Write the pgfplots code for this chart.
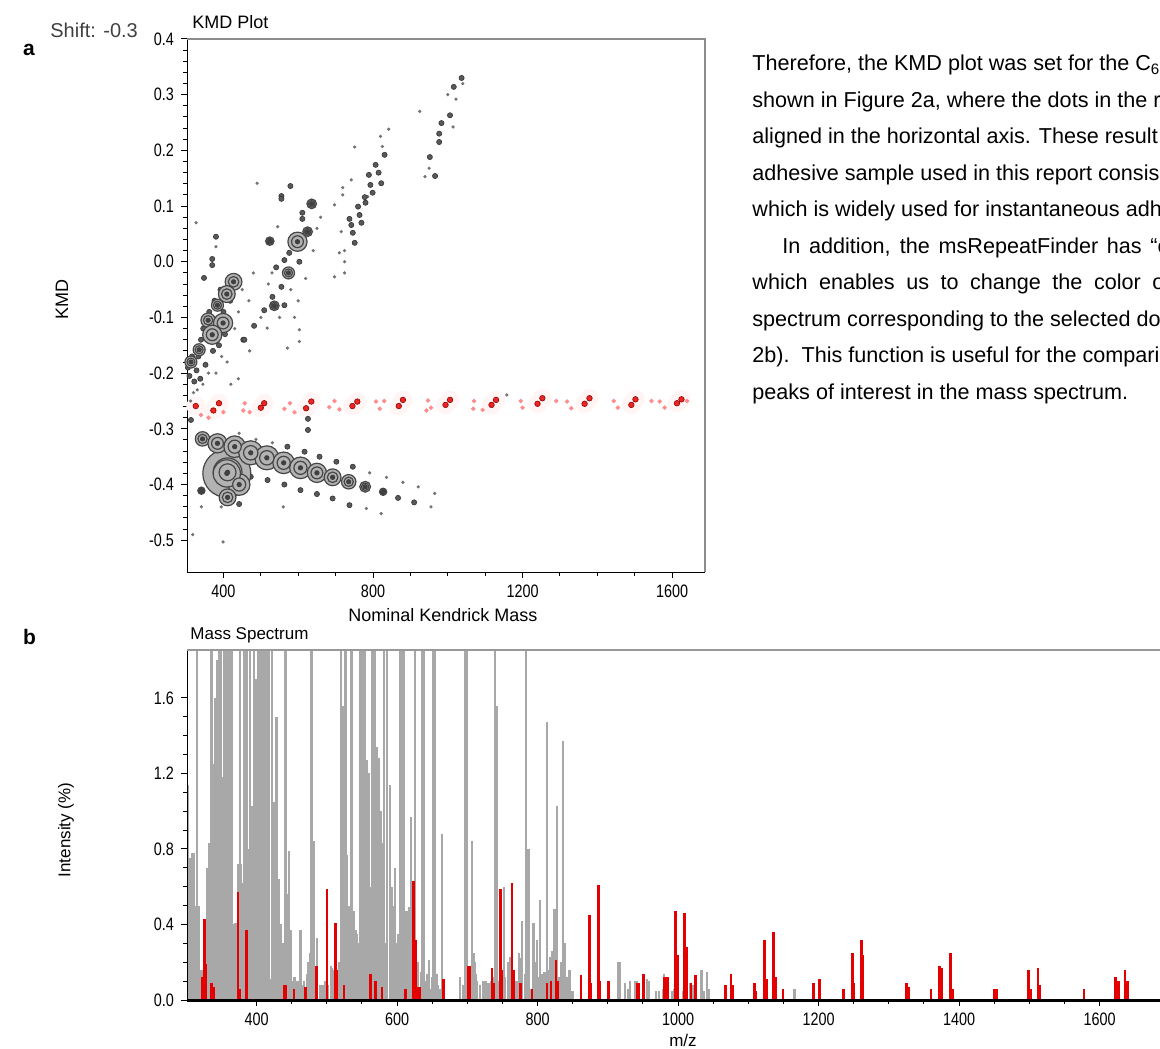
\documentclass[border=0pt]{standalone}
\usepackage{pgfplots}
\pgfplotsset{compat=1.18}
\usepackage{pgfplotstable}
\usepackage{fontspec}
\setmainfont{Liberation Sans}
\newfontfamily\uifont[FakeStretch=0.8]{Liberation Sans}
\definecolor{specgray}{RGB}{168,168,168}
\definecolor{specred}{RGB}{228,0,0}
\definecolor{bubfill}{RGB}{178,178,178}
\definecolor{bubline}{RGB}{70,70,70}

% KMD plot: bubbles (x, KMD, radius in px)
\pgfplotstableread{
x y r
409 -0.380 20
411 -0.378 12
442 -0.400 9
411 -0.423 7
344 -0.318 6
384 -0.326 8
430 -0.332 9
473 -0.343 10
516 -0.352 10
561 -0.361 9
606 -0.370 9
650 -0.379 8
692 -0.387 7
735 -0.395 6
779 -0.404 4.5
827 -0.413 3
341 -0.411 3
427 -0.036 7
409 -0.058 7
384 -0.078 5
359 -0.105 6
399 -0.110 8
370 -0.131 8
335 -0.158 5
313 -0.180 5
598 0.036 8
625 0.054 4
636 0.104 4
574 -0.020 5
536 -0.079 4
524 0.037 3.5
}\bubbles

\pgfplotstableread{
x y
541 -0.010
555 -0.045
563 0.003
576 0.016
603 0.000
611 0.088
611 0.077
625 0.057
531 -0.063
563 -0.078
509 -0.087
482 -0.115
453 -0.140
579 0.136
555 0.118
555 0.113
1006 0.263
983 0.249
831 0.192
807 0.174
778 0.116
815 0.160
822 0.141
793 0.138
789 0.156
799 0.124
780 0.106
764 0.084
760 0.099
769 0.070
742 0.066
737 0.077
746 0.052
751 0.034
1037 0.330
1016 0.314
977 0.230
977 0.215
952 0.188
966 0.154
348 -0.029
380 0.045
370 0.005
370 -0.006
456 -0.140
313 -0.284
563 -0.400
606 -0.410
650 -0.417
692 -0.425
518 -0.392
473 -0.386
442 -0.435
657 -0.350
702 -0.359
746 -0.368
571 -0.332
617 -0.341
737 -0.437
867 -0.424
910 -0.432
305 -0.190
309 -0.205
316 -0.170
322 -0.215
328 -0.195
333 -0.170
340 -0.140
346 -0.120
352 -0.100
362 -0.090
376 -0.070
392 -0.050
400 -0.090
418 -0.070
404 -0.130
388 -0.150
372 -0.160
352 -0.185
338 -0.210
626 -0.282
626 -0.302
}\darkdots

\pgfplotstableread{
x y
327 0.070
380 0.027
517 -0.119
603 -0.122
603 -0.143
571 -0.155
490 0.141
925 0.270
820 0.225
825 0.207
751 0.206
742 0.147
719 0.133
719 0.120
715 0.054
724 0.020
724 0.000
724 -0.020
697 -0.027
710 0.016
697 0.102
786 0.117
939 0.153
950 0.168
1014 0.242
1022 0.292
842 0.238
782 -0.443
822 -0.452
791 -0.379
836 -0.387
880 -0.396
921 -0.404
965 -0.416
955 -0.440
531 -0.325
487 -0.319
442 -0.308
341 -0.440
394 -0.440
318 -0.490
399 -0.503
560 -0.440
320 -0.235
312 -0.250
330 -0.230
345 -0.220
360 -0.200
380 -0.200
395 -0.170
410 -0.180
440 -0.210
420 -0.220
470 -0.160
430 -0.120
440 -0.090
450 -0.050
468 -0.070
500 -0.100
480 -0.020
520 -0.040
530 -0.020
550 -0.100
580 -0.050
590 -0.100
600 -0.070
620 -0.030
640 0.020
650 0.060
660 0.080
545 0.063
1158 -0.239
1000 0.300
1040 0.320
}\tinydots

\pgfplotstableread{
x y
326 -0.259
373 -0.267
388 -0.254
500 -0.262
509 -0.254
621 -0.263
635 -0.251
745 -0.259
758 -0.251
869 -0.259
880 -0.248
994 -0.257
1006 -0.248
1117 -0.257
1129 -0.248
1240 -0.255
1253 -0.245
1366 -0.255
1379 -0.245
1491 -0.257
1502 -0.247
1613 -0.254
1625 -0.247
}\reddots

\pgfplotstableread{
x y
340 -0.275
360 -0.280
400 -0.270
453 -0.267
457 -0.254
470 -0.270
563 -0.264
578 -0.254
590 -0.270
683 -0.261
697 -0.250
710 -0.265
808 -0.251
818 -0.264
830 -0.250
943 -0.267
947 -0.249
955 -0.262
1068 -0.264
1070 -0.250
1093 -0.266
1195 -0.250
1200 -0.262
1290 -0.250
1319 -0.251
1330 -0.263
1444 -0.250
1455 -0.262
1545 -0.250
1567 -0.251
1580 -0.262
1640 -0.250
}\palereddots

% Mass spectrum
\pgfplotstableread{
x y
302 0.18
306 0.75
310 0.70
314 0.50
318 0.30
322 0.16
326 0.20
330 0.68
334 0.82
338 0.75
342 0.60
346 0.90
350 1.10
354 0.70
358 0.60
362 0.40
366 0.25
370 0.28
374 0.70
378 0.72
382 0.75
386 0.72
390 0.80
394 0.90
398 0.85
402 1.10
406 0.90
410 1.00
414 0.95
418 0.70
422 0.12
426 0.60
430 0.64
434 0.40
438 0.30
442 0.25
446 0.20
450 0.10
454 0.12
458 0.10
462 0.15
466 0.08
470 0.06
474 0.20
478 0.22
482 0.20
486 0.12
490 0.08
494 0.08
498 0.10
502 0.08
506 0.18
510 0.16
514 0.12
518 0.20
522 0.40
526 0.50
530 0.45
534 0.35
538 0.40
542 0.35
546 0.30
550 0.60
554 0.40
558 0.70
562 0.60
566 0.40
570 0.35
574 0.55
578 0.45
582 0.30
586 0.40
590 0.70
594 0.50
598 0.30
602 0.35
606 0.45
610 0.50
614 0.40
618 0.30
622 0.20
626 0.30
630 0.20
634 0.15
638 0.20
642 0.10
646 0.06
650 0.12
654 0.06
658 0.08
662 0.06
690 0.10
694 0.08
698 0.12
702 0.08
706 0.15
710 0.20
714 0.10
718 0.08
722 0.10
726 0.10
730 0.09
734 0.10
738 0.12
742 0.10
746 0.10
750 0.15
754 0.12
758 0.20
762 0.15
766 0.14
770 0.10
774 0.22
778 0.12
782 0.14
786 0.10
790 0.06
794 0.10
798 0.20
802 0.12
806 0.14
810 0.15
814 0.16
818 0.12
822 0.20
826 0.15
830 0.12
834 0.20
838 0.15
842 0.12
846 0.08
850 0.05
}\grass

\pgfplotstableread{
x y
302.4 1.14
306.2 0.19
308.5 0.78
310.9 0.78
314.7 0.70
315.6 2.0
318 0.50
321.3 0.16
328.9 0.70
332.2 0.83
334.6 2.0
337 2.0
339.3 1.25
341.7 1.60
344.1 1.80
346.4 2.0
348.8 2.0
351.2 1.18
354.5 2.0
357.3 2.0
360.7 2.0
363 2.0
365.4 2.0
367.8 0.40
370.1 0.41
373.5 0.72
376.3 2.0
379.6 0.62
382.9 2.0
386.7 2.0
390.5 2.0
393.8 1.03
396.2 2.0
400 1.70
401.9 2.0
404.7 2.0
408.1 2.0
410.4 2.0
412.8 2.0
415.2 2.0
417.5 2.0
419.9 0.11
422.3 2.0
425.6 1.05
428.4 1.50
431.8 0.64
434.1 0.40
441.2 2.0
443.6 0.56
446 0.79
448.3 0.37
453.1 0.10
462.6 0.37
467.3 0.10
472 0.14
475.8 0.25
478.2 2.0
481.5 0.84
486.3 0.33
507.6 0.17
520.4 2.0
523.2 1.56
526.5 2.0
528.9 0.77
532.2 0.50
535.1 2.0
538.4 0.47
540.8 0.37
547.9 2.0
550.7 2.0
553.6 2.0
557.3 1.27
559.7 1.20
564.5 2.0
567.8 2.0
570.6 1.34
573.9 1.28
576.3 1.00
578.7 0.83
581 2.0
585.8 2.0
589.6 1.14
592.9 0.60
597.6 0.70
603.8 2.0
607.1 2.0
610.4 2.0
613.3 0.47
616.6 0.49
619.9 0.97
622.7 0.50
626.1 2.0
635.5 2.0
638.9 2.0
642.7 0.14
645.5 0.21
651.2 2.0
654.5 2.0
656.9 0.14
664.5 0.88
690 0.12
697.2 2.0
699.5 2.0
706.6 0.84
709 0.25
712.8 0.14
739.8 2.0
742.2 1.56
746.9 0.26
751.7 0.60
761.1 0.23
773 0.25
777.7 0.42
783.9 2.0
787.2 0.80
794.3 0.41
799.1 0.32
803.8 0.53
813.3 1.47
818 0.23
820.4 0.26
824.2 0.48
827.5 1.03
836.7 1.37
839.3 0.30
845.5 0.16
914.8 0.20
917.5 0.20
925 0.09
928.6 0.06
931.8 0.10
939.3 0.10
941.2 0.10
955.6 0.11
957.8 0.10
968.4 0.05
972.4 0.05
978.6 0.06
980.1 0.14
986.2 0.08
991.3 0.05
993.9 0.06
1006.6 0.05
1016.8 0.09
1020.4 0.08
1025.5 0.05
1033.2 0.16
1036.2 0.05
1041.3 0.15
1043.9 0.06
1165.8 0.06
}\graypeaks

\pgfplotstableread{
x y
322.7 0.12
324.2 0.05
326.1 0.43
327.5 0.19
336 0.09
338.4 0.07
373.5 0.57
375.4 0.06
385.8 0.37
438.9 0.08
441 0.08
453.1 0.06
469.7 0.07
485.3 0.18
500.5 0.59
512.3 0.41
514.5 0.16
524.2 0.08
562.1 0.14
569.2 0.10
578.7 0.07
611.8 0.06
623.7 0.63
626 0.32
629.4 0.07
632 0.07
666.4 0.11
701.9 0.18
704 0.18
735.1 0.17
737.5 0.09
746.9 0.59
749.3 0.16
763.5 0.62
765.8 0.16
775.4 0.09
791.9 0.06
813.3 0.09
819.4 0.10
826.5 0.21
828.5 0.10
861.6 0.13
873.5 0.45
875.9 0.09
886.7 0.61
889 0.10
901 0.10
942 0.09
944 0.09
950.5 0.14
981 0.12
984.7 0.12
996.4 0.47
999 0.24
1009.2 0.46
1011.7 0.28
1018.4 0.09
1024.5 0.13
1067.9 0.08
1075.5 0.14
1078 0.08
1108.7 0.09
1111.2 0.05
1123 0.32
1125.5 0.11
1135.7 0.36
1138.8 0.12
1149.5 0.06
1192.9 0.09
1201.5 0.11
1235.2 0.06
1248 0.25
1250.5 0.09
1260.7 0.32
1263.3 0.24
1325.5 0.09
1328 0.07
1360.2 0.06
1372.4 0.18
1375 0.17
1387.8 0.25
1390.3 0.06
1450.5 0.06
1453 0.06
1499 0.16
1501.5 0.06
1512.2 0.17
1514.3 0.08
1578 0.06
1623 0.12
1626.5 0.10
1636.2 0.16
1639.3 0.10
}\redpeaks

\pgfplotsset{
  swin/.style={
    scale only axis,
    axis x line*=bottom, axis y line*=left,
    x axis line style={-}, y axis line style={-},
    tick align=outside,
    major tick length=3pt, minor tick length=1.8pt,
    tick style={black, line width=0.5pt},
    tick label style={font=\uifont\fontsize{9}{10}\selectfont},
    /pgf/number format/assume math mode=true,
    /pgf/number format/.cd, fixed, fixed zerofill, precision=1, 1000 sep={},
  },
}

\begin{document}
\begin{tikzpicture}
\useasboundingbox (0,0) rectangle (580pt,524pt);

% ---- panel a: KMD plot
\begin{axis}[swin,
  at={(93.5pt,238pt)}, anchor=south west,
  width=259pt, height=266.5pt,
  xmin=302.5, xmax=1688, ymin=-0.557, ymax=0.4,
  xtick={400,800,1200,1600}, minor x tick num=3,
  ytick={-0.5,-0.4,-0.3,-0.2,-0.1,0,0.1,0.2,0.3,0.4}, minor y tick num=4,
  xticklabel style={/pgf/number format/.cd, fixed, precision=0, 1000 sep={}},
  clip=false,
]
\addplot[only marks, mark=*, mark size=4.5pt, mark options={draw=red!4, fill=red!4}] table {\reddots};
\addplot[only marks, mark=*, mark size=0.6pt, mark options={draw=black!55, fill=black!55}] table {\tinydots};
\addplot[only marks, mark=*, mark size=0.9pt, mark options={draw=red!45, fill=red!45}] table {\palereddots};
\addplot[only marks, mark=*, mark size=1.4pt, mark options={draw=red!60!black, fill=specred!85, line width=0.3pt}] table {\reddots};
\addplot[only marks, mark=*, mark size=1.3pt, mark options={draw=black!80, fill=black!65, line width=0.3pt}] table {\darkdots};
\addplot[scatter, only marks, mark=*,
  scatter/use mapped color={draw=bubline, fill=bubfill},
  mark options={line width=0.6pt},
  visualization depends on={0.6*\thisrow{r} \as \rr},
  scatter/@pre marker code/.append style={/tikz/mark size=\rr}] table {\bubbles};
\addplot[scatter, only marks, mark=*,
  scatter/use mapped color={draw=bubline, fill=bubfill},
  mark options={line width=0.6pt},
  visualization depends on={0.32*\thisrow{r}+0.4 \as \rr},
  scatter/@pre marker code/.append style={/tikz/mark size=\rr}] table {\bubbles};
\addplot[only marks, mark=*, mark size=1.1pt, mark options={draw=black!75, fill=black!75}] table {\bubbles};
\end{axis}
\draw[black!45, line width=0.6pt] (93.5pt,504.5pt) -- (352.5pt,504.5pt) -- (352.5pt,238pt);

% ---- panel b: mass spectrum
\begin{axis}[swin,
  at={(93.5pt,24pt)}, anchor=south west,
  width=486.5pt, height=175pt,
  xmin=301, xmax=1686, ymin=0, ymax=1.854,
  xtick={400,600,800,1000,1200,1400,1600}, minor x tick num=3,
  xticklabel style={/pgf/number format/.cd, fixed, precision=0, 1000 sep={}},
  ytick={0,0.4,0.8,1.2,1.6}, minor y tick num=3,
  x axis line style={-, line width=1.5pt},
  axis on top,
]
\addplot[ycomb, specgray, line width=1.2pt, mark=none] table {\grass};
\addplot[ycomb, specgray, line width=1.1pt, mark=none] table {\graypeaks};
\addplot[ycomb, specred, line width=1.3pt, mark=none] table {\redpeaks};
\end{axis}
\draw[black!40, line width=0.6pt] (93.5pt,199pt) -- (580pt,199pt);

% ---- labels
\node[anchor=west, font=\bfseries\fontsize{10.5}{12}\selectfont] at (8pt,499pt) {a};
\node[anchor=west, font=\bfseries\fontsize{10.5}{12}\selectfont] at (8pt,205.5pt) {b};
\node[anchor=west, text=black!75, font=\fontsize{10}{12}\selectfont, inner sep=0pt] at (25pt,509pt) {Shift: -0.3};
\node[anchor=west, font=\fontsize{9}{10}\selectfont, inner sep=0pt] at (96pt,513pt) {KMD Plot};
\node[rotate=90, font=\fontsize{9}{10}\selectfont] at (31pt,374pt) {KMD};
\node[font=\fontsize{9}{10}\selectfont] at (221.5pt,216.5pt) {Nominal Kendrick Mass};
\node[anchor=west, font=\fontsize{8.5}{10}\selectfont, inner sep=0pt] at (95pt,206.5pt) {Mass Spectrum};
\node[rotate=90, font=\fontsize{8.5}{10}\selectfont] at (33pt,109pt) {Intensity (\%)};
\node[font=\fontsize{8.5}{10}\selectfont] at (341.5pt,4pt) {m/z};

% ---- running text, cut at the right edge
\begin{scope}
\clip (0,0) rectangle (580pt,524pt);
\begin{scope}[every node/.style={anchor=base west, inner sep=0pt, font=\fontsize{10.8}{13}\selectfont}]
\node at (376pt,488.5pt) {Therefore, the KMD plot was set for the C\textsubscript{6}};
\node at (376pt,470.25pt) {shown in Figure 2a, where the dots in the r};
\node at (376pt,452pt) {aligned in the horizontal axis. These result};
\node at (376pt,433.75pt) {adhesive sample used in this report consis};
\node at (376pt,415.5pt) {which is widely used for instantaneous adhe};
\node at (391pt,397.25pt) {\makebox[193pt][s]{In addition, the msRepeatFinder has “c}};
\node at (376pt,379pt) {\makebox[206pt][s]{which enables us to change the color o}};
\node at (376pt,360.75pt) {spectrum corresponding to the selected do};
\node at (376pt,342.5pt) {2b).\ \ This function is useful for the compari};
\node at (376pt,324.25pt) {peaks of interest in the mass spectrum.};
\end{scope}
\end{scope}
\end{tikzpicture}
\end{document}
